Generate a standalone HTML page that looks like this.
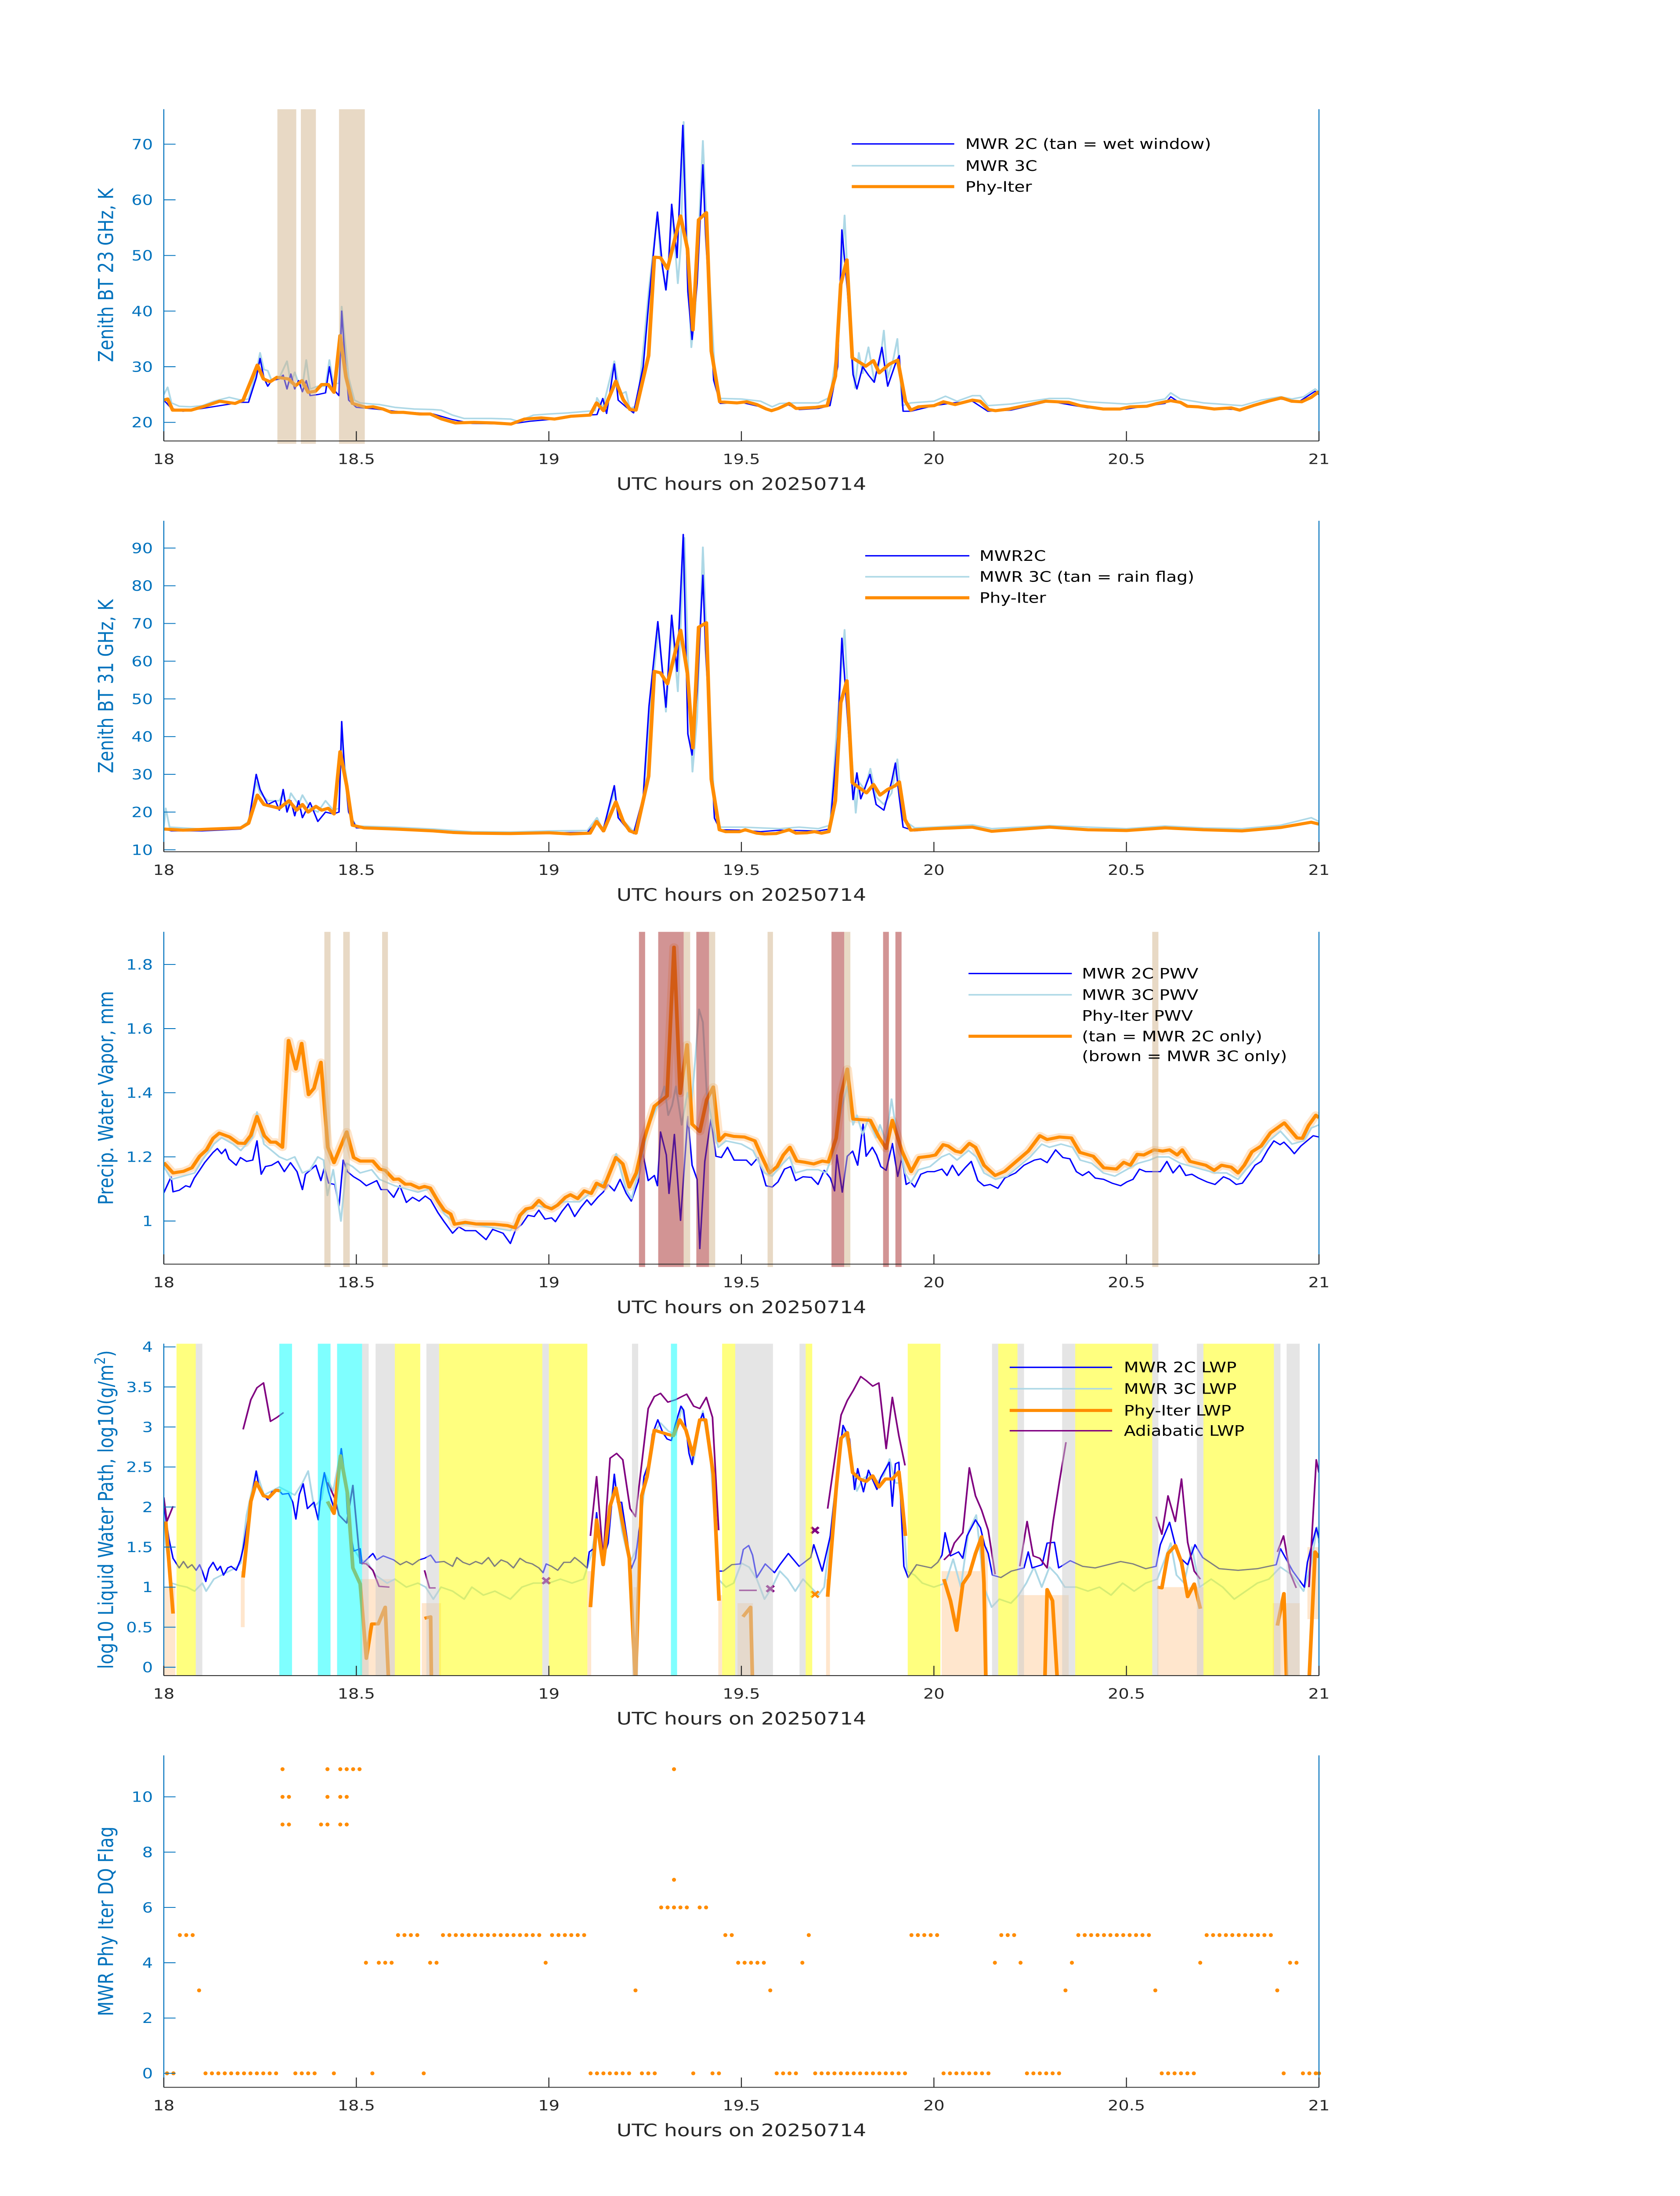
<!DOCTYPE html>
<html><head><meta charset="utf-8"><title>MWR 20250714</title>
<style>html,body{margin:0;padding:0;background:#fff;width:100%;height:100%;overflow:hidden}svg{display:block;width:100vw;height:100vh}</style></head>
<body>
<svg id="fig" xmlns="http://www.w3.org/2000/svg" viewBox="0 0 1000 1568.627" preserveAspectRatio="none" font-family="'DejaVu Sans','Liberation Sans',sans-serif">
<rect width="1000" height="1568.627" fill="#fff"/>
</svg>
<script>
// ---------- DATA ----------
const bt23Phy=[[18.0,24.0],[18.01,24.2],[18.023,22.2],[18.071,22.2],[18.106,22.9],[18.145,23.8],[18.185,23.4],[18.206,24.0],[18.243,30.3],[18.259,27.8],[18.276,27.3],[18.294,28.1],[18.324,27.8],[18.342,26.6],[18.359,27.5],[18.375,25.4],[18.394,25.6],[18.41,26.8],[18.427,26.8],[18.442,25.4],[18.458,35.6],[18.473,28.2],[18.49,23.4],[18.525,22.7],[18.543,22.8],[18.569,22.4],[18.591,21.8],[18.622,21.8],[18.665,21.5],[18.692,21.5],[18.722,20.6],[18.757,19.9],[18.806,20.0],[18.858,19.9],[18.902,19.7],[18.937,20.6],[18.98,20.8],[19.015,20.6],[19.058,21.1],[19.107,21.3],[19.124,23.5],[19.142,22.1],[19.174,27.4],[19.193,24.1],[19.211,22.3],[19.226,22.2],[19.259,32.0],[19.274,49.7],[19.29,49.6],[19.308,47.6],[19.342,57.1],[19.36,51.2],[19.374,36.6],[19.389,56.4],[19.409,57.7],[19.422,32.8],[19.444,23.7],[19.489,23.5],[19.514,23.7],[19.54,23.2],[19.565,22.4],[19.578,22.1],[19.596,22.5],[19.624,23.4],[19.642,22.5],[19.693,22.7],[19.723,23.0],[19.744,28.3],[19.758,44.8],[19.774,49.2],[19.788,31.6],[19.823,30.1],[19.843,31.1],[19.858,28.9],[19.885,30.5],[19.906,31.2],[19.926,23.8],[19.94,22.2],[19.96,22.8],[20.0,23.0],[20.025,23.7],[20.055,23.2],[20.1,24.0],[20.12,23.8],[20.142,22.3],[20.16,22.1],[20.195,22.4],[20.29,23.8],[20.35,23.6],[20.38,23.0],[20.44,22.4],[20.483,22.4],[20.51,22.8],[20.553,22.9],[20.58,23.4],[20.615,23.9],[20.64,23.6],[20.658,22.9],[20.685,22.8],[20.728,22.4],[20.772,22.6],[20.794,22.2],[20.833,23.1],[20.868,23.8],[20.903,24.4],[20.929,23.8],[20.955,23.7],[20.98,24.5],[20.997,25.4],[21.0,25.2]];
const bt23Mwr2c=[[18.0,24],[18.02,22.5],[18.05,22.0],[18.1,22.5],[18.2,23.6],[18.22,23.6],[18.24,28],[18.25,31.5],[18.26,28],[18.27,26.5],[18.28,27.5],[18.3,27.8],[18.31,28.5],[18.32,26],[18.33,28.7],[18.34,26],[18.35,27.5],[18.36,25.5],[18.37,27.5],[18.38,24.8],[18.4,25],[18.42,25.3],[18.43,30],[18.44,26],[18.455,24.8],[18.462,40],[18.47,32],[18.48,24],[18.5,22.7],[18.55,22.4],[18.6,22.0],[18.7,21.5],[18.75,20.5],[18.8,19.8],[18.9,19.7],[18.95,20.2],[19.0,20.5],[19.1,21.3],[19.125,21.4],[19.14,24.3],[19.15,21.6],[19.17,30.5],[19.18,24],[19.2,22.8],[19.22,21.7],[19.245,30],[19.26,42],[19.282,57.8],[19.295,48],[19.304,43.8],[19.312,50],[19.319,59.2],[19.333,49.6],[19.348,73.4],[19.361,43.5],[19.372,34.9],[19.385,45],[19.4,66.3],[19.407,53.8],[19.428,27.6],[19.445,23.4],[19.5,23.6],[19.55,22.8],[19.58,22.0],[19.62,23.2],[19.65,22.3],[19.7,22.5],[19.73,23.0],[19.75,30],[19.761,54.6],[19.775,44],[19.79,28.6],[19.8,26],[19.815,30],[19.83,28.5],[19.845,27.2],[19.865,33.5],[19.88,26.5],[19.9,30.5],[19.91,32],[19.92,22],[19.94,22.0],[20.0,23.0],[20.05,23.5],[20.1,23.8],[20.14,22.0],[20.2,22.2],[20.3,23.8],[20.4,22.6],[20.5,22.4],[20.6,23.4],[20.615,24.6],[20.65,23.0],[20.7,22.6],[20.75,22.4],[20.8,22.3],[20.85,23.5],[20.9,24.2],[20.95,23.8],[20.99,25.6],[21.0,25.0]];
const bt23Mwr3c=[[18.0,25],[18.01,26.3],[18.02,23.5],[18.04,22.9],[18.07,22.8],[18.1,23.0],[18.13,23.8],[18.17,24.5],[18.2,24.0],[18.22,24.2],[18.24,29],[18.25,32.5],[18.26,29.5],[18.27,29.3],[18.28,27.5],[18.3,28.0],[18.31,29.5],[18.32,31],[18.33,27],[18.34,29],[18.35,27],[18.36,26.5],[18.37,31.2],[18.38,26],[18.4,26.5],[18.42,26.5],[18.43,31.2],[18.44,27],[18.455,27],[18.462,40.8],[18.47,35],[18.48,28],[18.495,24],[18.51,23.5],[18.54,23.3],[18.56,23.2],[18.6,22.7],[18.65,22.4],[18.7,22.3],[18.72,22.2],[18.75,21.3],[18.78,20.7],[18.85,20.7],[18.9,20.6],[18.92,20.2],[18.96,21.3],[19.0,21.5],[19.05,21.7],[19.1,22.0],[19.12,22.1],[19.125,24.4],[19.14,22.6],[19.17,31.0],[19.185,25],[19.2,25.5],[19.21,22.5],[19.23,23],[19.245,33],[19.26,44],[19.282,57.4],[19.29,50],[19.304,43.8],[19.31,47],[19.32,58.5],[19.335,45],[19.343,52],[19.35,74.0],[19.36,50],[19.37,33.5],[19.38,40],[19.4,70.6],[19.41,55],[19.43,30],[19.445,24.3],[19.5,24.2],[19.55,23.8],[19.58,22.8],[19.6,23.4],[19.64,23.5],[19.7,23.5],[19.73,24.5],[19.75,34],[19.762,50],[19.768,57.2],[19.78,40],[19.795,26.2],[19.805,32.5],[19.815,28.8],[19.83,33.5],[19.845,27.5],[19.86,31],[19.87,36.5],[19.88,28],[19.895,31.5],[19.905,35],[19.918,23],[19.94,23.5],[20.0,23.8],[20.03,24.7],[20.06,23.8],[20.1,24.8],[20.12,24.8],[20.14,23.0],[20.2,23.3],[20.3,24.3],[20.35,24.3],[20.4,23.7],[20.5,23.3],[20.55,23.6],[20.6,24.2],[20.615,25.3],[20.64,24.2],[20.7,23.5],[20.8,23.0],[20.85,24.0],[20.9,24.6],[20.93,24.2],[20.96,24.6],[20.99,26.0],[21.0,25.5]];
const bt23WetBands=[[18.295,18.344],[18.356,18.395],[18.455,18.522]];

const bt31Phy=[[18.0,15.5],[18.05,15.2],[18.2,15.8],[18.22,17],[18.243,24.5],[18.26,22],[18.28,21.5],[18.3,21],[18.325,23],[18.345,20.5],[18.36,22],[18.375,20],[18.395,21.5],[18.41,20.5],[18.427,21],[18.442,19.5],[18.458,36],[18.475,27],[18.49,16.5],[18.52,15.8],[18.6,15.5],[18.7,15],[18.75,14.6],[18.8,14.4],[18.9,14.3],[19.0,14.5],[19.056,14.2],[19.107,14.4],[19.124,17.5],[19.142,15.0],[19.174,22.7],[19.193,17.5],[19.21,15.0],[19.226,14.4],[19.259,29.5],[19.274,57.3],[19.29,56.9],[19.308,54.0],[19.342,68.2],[19.36,56.7],[19.374,37.0],[19.389,69.0],[19.409,70.2],[19.422,28.7],[19.443,15.3],[19.459,14.8],[19.495,14.8],[19.51,15.3],[19.54,14.4],[19.56,14.2],[19.59,14.3],[19.624,15.3],[19.642,14.4],[19.67,14.5],[19.69,14.8],[19.708,14.4],[19.727,14.8],[19.744,23.0],[19.758,49.0],[19.774,54.8],[19.788,27.8],[19.804,26.6],[19.825,25.1],[19.843,27.3],[19.86,24.5],[19.88,26],[19.9,27],[19.91,28],[19.925,18],[19.94,15.2],[20.0,15.6],[20.1,16.0],[20.15,14.9],[20.3,16.0],[20.4,15.3],[20.5,15.1],[20.6,15.8],[20.7,15.3],[20.8,15.0],[20.9,15.9],[20.98,17.3],[21.0,16.8]];
const bt31Mwr2c=[[18.0,15.5],[18.02,15.0],[18.1,15.0],[18.2,15.5],[18.22,17],[18.24,30],[18.25,26],[18.27,22],[18.29,23],[18.3,20.5],[18.31,26],[18.32,20],[18.33,23],[18.34,19],[18.35,23],[18.36,18.5],[18.38,22.5],[18.4,17.5],[18.42,20],[18.44,19.5],[18.455,20],[18.462,44],[18.47,30],[18.48,20],[18.5,15.8],[18.6,15.5],[18.7,15],[18.8,14.3],[18.9,14.2],[19.0,14.5],[19.1,14.6],[19.125,17.5],[19.14,14.8],[19.17,27],[19.18,18.5],[19.2,16],[19.22,14.3],[19.245,24],[19.26,48],[19.283,70.5],[19.304,47.8],[19.319,72.2],[19.333,57.3],[19.349,93.6],[19.361,40.7],[19.372,35.1],[19.385,52],[19.4,82.8],[19.407,63.1],[19.43,18.4],[19.445,15.3],[19.5,15.2],[19.55,14.8],[19.6,15.2],[19.7,15.0],[19.73,15.5],[19.75,40],[19.761,66.1],[19.775,46],[19.79,23.3],[19.8,30.4],[19.81,23.5],[19.834,30.0],[19.85,22],[19.87,20.5],[19.89,28],[19.9,33],[19.91,24],[19.92,16],[19.95,15.0],[20.0,15.4],[20.1,15.8],[20.15,15.0],[20.3,15.8],[20.5,15.0],[20.6,15.8],[20.7,15.2],[20.8,15.0],[20.9,15.8],[20.98,17.5],[21.0,16.8]];
const bt31Mwr3c=[[18.0,16],[18.005,21],[18.015,16],[18.1,15.5],[18.2,16],[18.22,17.5],[18.24,28],[18.25,25],[18.27,23],[18.3,23],[18.31,25],[18.32,21],[18.33,25],[18.35,22],[18.36,24.5],[18.38,21],[18.4,20],[18.42,23],[18.44,20.5],[18.455,21],[18.462,41],[18.47,32],[18.49,18],[18.5,16.3],[18.6,16],[18.7,15.5],[18.8,14.8],[18.9,14.7],[19.0,15.0],[19.1,15.1],[19.125,18.5],[19.14,15.2],[19.17,25.5],[19.18,19],[19.2,17],[19.22,14.8],[19.245,22],[19.26,45],[19.285,68.7],[19.304,46.6],[19.32,69.9],[19.335,52],[19.352,92.7],[19.365,48],[19.373,30.7],[19.385,45],[19.4,90.2],[19.41,65],[19.43,21],[19.445,16],[19.5,16],[19.6,15.6],[19.65,16],[19.7,15.6],[19.73,16.5],[19.75,45],[19.768,68.3],[19.78,44],[19.797,19.8],[19.805,28],[19.82,26],[19.835,31.5],[19.85,24],[19.87,22],[19.89,25],[19.905,34],[19.92,18],[19.95,15.8],[20.0,16],[20.1,16.6],[20.15,15.6],[20.3,16.4],[20.5,15.6],[20.6,16.3],[20.7,15.8],[20.8,15.6],[20.9,16.5],[20.98,18.5],[21.0,17.5]];

const pwvPhy=[[18.0,1.182],[18.024,1.150],[18.051,1.155],[18.073,1.166],[18.093,1.202],[18.111,1.222],[18.128,1.258],[18.144,1.274],[18.171,1.262],[18.193,1.243],[18.21,1.242],[18.226,1.267],[18.242,1.326],[18.261,1.266],[18.277,1.246],[18.291,1.246],[18.308,1.230],[18.324,1.563],[18.343,1.474],[18.358,1.554],[18.376,1.394],[18.39,1.414],[18.408,1.495],[18.426,1.230],[18.442,1.182],[18.475,1.278],[18.493,1.198],[18.51,1.187],[18.543,1.187],[18.561,1.162],[18.575,1.158],[18.597,1.130],[18.61,1.131],[18.627,1.115],[18.641,1.115],[18.663,1.103],[18.677,1.108],[18.692,1.103],[18.712,1.062],[18.728,1.034],[18.745,1.022],[18.755,0.990],[18.783,0.996],[18.81,0.991],[18.859,0.990],[18.892,0.986],[18.912,0.979],[18.925,1.018],[18.941,1.038],[18.957,1.042],[18.974,1.064],[18.99,1.046],[19.007,1.038],[19.023,1.050],[19.043,1.074],[19.056,1.082],[19.075,1.070],[19.092,1.094],[19.11,1.086],[19.124,1.118],[19.143,1.106],[19.174,1.198],[19.192,1.178],[19.209,1.106],[19.227,1.150],[19.247,1.254],[19.274,1.358],[19.307,1.390],[19.325,1.854],[19.341,1.398],[19.359,1.550],[19.372,1.302],[19.392,1.279],[19.41,1.378],[19.427,1.418],[19.442,1.250],[19.458,1.270],[19.48,1.264],[19.508,1.262],[19.535,1.250],[19.551,1.206],[19.573,1.150],[19.593,1.170],[19.609,1.206],[19.626,1.230],[19.644,1.187],[19.666,1.183],[19.688,1.178],[19.71,1.187],[19.726,1.184],[19.746,1.258],[19.759,1.394],[19.775,1.474],[19.79,1.318],[19.811,1.316],[19.835,1.314],[19.857,1.262],[19.876,1.226],[19.892,1.314],[19.917,1.218],[19.941,1.154],[19.961,1.198],[19.988,1.202],[20.004,1.206],[20.024,1.238],[20.037,1.234],[20.056,1.218],[20.07,1.214],[20.092,1.242],[20.108,1.230],[20.13,1.174],[20.159,1.142],[20.184,1.155],[20.212,1.184],[20.245,1.218],[20.275,1.266],[20.294,1.254],[20.326,1.262],[20.357,1.259],[20.379,1.214],[20.414,1.202],[20.441,1.166],[20.474,1.162],[20.493,1.183],[20.51,1.174],[20.528,1.208],[20.545,1.206],[20.572,1.222],[20.594,1.218],[20.612,1.222],[20.632,1.206],[20.645,1.222],[20.665,1.186],[20.692,1.178],[20.706,1.174],[20.728,1.158],[20.747,1.174],[20.772,1.168],[20.79,1.150],[20.806,1.174],[20.826,1.216],[20.85,1.234],[20.874,1.275],[20.91,1.306],[20.943,1.259],[20.957,1.258],[20.973,1.298],[20.992,1.330],[21.0,1.322]];
const pwvMwr2c=[[18.0,1.088],[18.019,1.138],[18.024,1.091],[18.04,1.096],[18.057,1.110],[18.068,1.106],[18.079,1.134],[18.095,1.162],[18.106,1.182],[18.128,1.214],[18.139,1.226],[18.15,1.210],[18.16,1.224],[18.169,1.194],[18.188,1.174],[18.199,1.198],[18.215,1.186],[18.231,1.190],[18.242,1.250],[18.253,1.146],[18.264,1.170],[18.28,1.174],[18.297,1.186],[18.313,1.154],[18.329,1.182],[18.346,1.154],[18.36,1.098],[18.368,1.146],[18.395,1.174],[18.408,1.126],[18.417,1.166],[18.428,1.118],[18.444,1.114],[18.455,1.046],[18.466,1.190],[18.477,1.154],[18.493,1.138],[18.51,1.126],[18.526,1.110],[18.553,1.126],[18.564,1.098],[18.58,1.098],[18.597,1.074],[18.613,1.110],[18.63,1.058],[18.646,1.074],[18.663,1.062],[18.679,1.078],[18.693,1.066],[18.712,1.026],[18.728,0.998],[18.75,0.962],[18.766,0.982],[18.783,0.970],[18.81,0.970],[18.837,0.942],[18.854,0.974],[18.881,0.962],[18.9,0.930],[18.914,0.974],[18.93,0.990],[18.946,1.018],[18.962,1.014],[18.974,1.034],[18.99,1.006],[19.007,1.010],[19.017,0.998],[19.034,1.030],[19.05,1.054],[19.067,1.014],[19.083,1.042],[19.099,1.066],[19.11,1.050],[19.127,1.074],[19.141,1.090],[19.154,1.114],[19.17,1.094],[19.185,1.130],[19.201,1.086],[19.214,1.062],[19.232,1.122],[19.243,1.218],[19.258,1.126],[19.274,1.142],[19.282,1.110],[19.29,1.278],[19.305,1.206],[19.312,1.086],[19.326,1.270],[19.342,1.002],[19.361,1.326],[19.372,1.174],[19.385,1.130],[19.392,0.914],[19.405,1.186],[19.421,1.318],[19.434,1.202],[19.448,1.198],[19.464,1.230],[19.481,1.190],[19.513,1.190],[19.526,1.174],[19.543,1.198],[19.564,1.110],[19.58,1.106],[19.595,1.122],[19.612,1.162],[19.628,1.170],[19.641,1.126],[19.66,1.138],[19.682,1.136],[19.699,1.114],[19.715,1.158],[19.731,1.134],[19.742,1.094],[19.748,1.206],[19.762,1.090],[19.775,1.202],[19.789,1.218],[19.802,1.174],[19.816,1.302],[19.824,1.202],[19.84,1.230],[19.851,1.206],[19.862,1.170],[19.876,1.158],[19.892,1.242],[19.906,1.139],[19.917,1.198],[19.928,1.114],[19.939,1.122],[19.95,1.106],[19.966,1.146],[19.983,1.154],[20.001,1.154],[20.021,1.162],[20.034,1.142],[20.048,1.174],[20.064,1.142],[20.081,1.166],[20.097,1.186],[20.114,1.126],[20.13,1.110],[20.146,1.114],[20.166,1.102],[20.184,1.134],[20.212,1.150],[20.234,1.174],[20.261,1.190],[20.277,1.194],[20.294,1.182],[20.316,1.222],[20.335,1.198],[20.353,1.194],[20.37,1.154],[20.386,1.142],[20.402,1.154],[20.419,1.134],[20.441,1.130],[20.463,1.118],[20.485,1.110],[20.501,1.122],[20.517,1.130],[20.534,1.162],[20.55,1.154],[20.572,1.154],[20.588,1.154],[20.605,1.186],[20.621,1.150],[20.638,1.174],[20.654,1.142],[20.67,1.146],[20.687,1.134],[20.709,1.122],[20.73,1.114],[20.752,1.138],[20.768,1.130],[20.785,1.114],[20.801,1.118],[20.818,1.146],[20.834,1.174],[20.85,1.186],[20.867,1.222],[20.883,1.250],[20.899,1.238],[20.909,1.246],[20.925,1.226],[20.936,1.210],[20.953,1.234],[20.969,1.250],[20.985,1.266],[21.0,1.262]];
const pwvMwr3c=[[18.0,1.17],[18.02,1.13],[18.05,1.14],[18.08,1.15],[18.1,1.19],[18.13,1.24],[18.15,1.26],[18.18,1.24],[18.2,1.22],[18.23,1.26],[18.242,1.34],[18.26,1.24],[18.28,1.22],[18.3,1.2],[18.32,1.19],[18.34,1.2],[18.36,1.15],[18.38,1.16],[18.4,1.2],[18.415,1.19],[18.425,1.08],[18.44,1.16],[18.46,1.0],[18.475,1.18],[18.49,1.17],[18.51,1.15],[18.54,1.16],[18.56,1.13],[18.6,1.11],[18.63,1.1],[18.66,1.09],[18.69,1.1],[18.71,1.06],[18.73,1.02],[18.76,0.99],[18.8,0.99],[18.85,0.98],[18.9,0.97],[18.93,1.02],[18.96,1.05],[19.0,1.04],[19.04,1.06],[19.08,1.06],[19.12,1.1],[19.15,1.13],[19.175,1.21],[19.2,1.1],[19.215,1.07],[19.23,1.14],[19.26,1.3],[19.29,1.38],[19.3,1.42],[19.31,1.33],[19.32,1.36],[19.33,1.42],[19.345,1.3],[19.36,1.4],[19.37,1.36],[19.38,1.5],[19.39,1.66],[19.4,1.62],[19.41,1.4],[19.425,1.3],[19.44,1.23],[19.46,1.25],[19.5,1.24],[19.53,1.22],[19.56,1.15],[19.58,1.14],[19.6,1.17],[19.625,1.2],[19.64,1.15],[19.67,1.16],[19.7,1.16],[19.72,1.15],[19.74,1.22],[19.76,1.35],[19.775,1.42],[19.79,1.3],[19.8,1.33],[19.815,1.27],[19.83,1.32],[19.85,1.26],[19.86,1.3],[19.875,1.25],[19.89,1.38],[19.9,1.3],[19.91,1.25],[19.925,1.15],[19.94,1.12],[19.96,1.16],[19.99,1.17],[20.02,1.2],[20.04,1.21],[20.06,1.19],[20.09,1.22],[20.11,1.2],[20.13,1.15],[20.16,1.13],[20.19,1.14],[20.22,1.17],[20.25,1.2],[20.28,1.24],[20.3,1.23],[20.33,1.24],[20.36,1.23],[20.38,1.19],[20.41,1.18],[20.44,1.15],[20.47,1.14],[20.5,1.16],[20.53,1.18],[20.56,1.19],[20.58,1.2],[20.61,1.2],[20.64,1.18],[20.67,1.17],[20.7,1.16],[20.73,1.15],[20.76,1.15],[20.79,1.13],[20.81,1.16],[20.84,1.2],[20.87,1.25],[20.9,1.28],[20.93,1.24],[20.96,1.25],[20.98,1.29],[21.0,1.3]];
const pwvTanBands=[[18.417,18.433],[18.466,18.483],[18.567,18.582],[19.35,19.367],[19.416,19.432],[19.568,19.582],[19.767,19.783],[20.567,20.583]];
const pwvBrownBands=[[19.234,19.25],[19.284,19.35],[19.383,19.416],[19.734,19.767],[19.868,19.883],[19.9,19.916]];

const lwpPhy=[[18.005,1.82],[18.024,0.67],null,[18.206,1.12],[18.226,2.07],[18.24,2.31],[18.259,2.14],[18.273,2.12],[18.291,2.21],[18.304,2.20],null,[18.425,2.07],[18.442,1.92],[18.459,2.64],[18.477,2.17],[18.491,1.24],[18.51,1.04],[18.526,0.11],[18.54,0.54],[18.557,0.54],[18.575,0.75],[18.584,-0.2],null,[18.677,0.61],[18.693,0.63],[18.695,-0.2],null,[19.108,0.75],[19.124,1.84],[19.141,1.28],[19.159,2.01],[19.174,2.24],[19.192,1.79],[19.209,1.36],[19.225,-0.2],[19.241,2.14],[19.255,2.38],[19.274,2.96],[19.307,2.91],[19.323,2.89],[19.34,3.09],[19.356,2.96],[19.374,2.65],[19.392,3.09],[19.407,3.09],[19.427,2.41],[19.442,0.83],null,[19.504,0.63],[19.524,0.75],[19.529,-0.2],null,[19.724,0.88],[19.746,2.22],[19.759,2.86],[19.775,2.93],[19.789,2.43],[19.808,2.35],[19.824,2.32],[19.841,2.39],[19.857,2.25],[19.874,2.35],[19.892,2.35],[19.909,2.44],[19.917,2.09],[19.926,1.64],null,[20.026,1.10],[20.043,0.83],[20.059,0.46],[20.075,1.04],[20.092,1.16],[20.108,1.42],[20.124,1.63],[20.13,1.05],[20.135,-0.2],null,[20.288,-0.2],[20.294,0.97],[20.308,0.83],[20.321,-0.2],null,[20.58,1.00],[20.592,0.99],[20.608,1.42],[20.627,1.52],[20.643,1.31],[20.659,0.88],[20.676,1.04],[20.692,0.73],null,[20.892,0.52],[20.909,0.92],[20.916,-0.2],null,[20.974,-0.2],[20.99,1.44],[21.0,1.37]];
const lwpAdiabatic=[[18.0,2.12],[18.008,1.82],[18.024,2.01],null,[18.206,2.97],[18.226,3.34],[18.242,3.49],[18.259,3.55],[18.277,3.07],[18.294,3.12],[18.311,3.18],null,[18.425,2.31],[18.444,2.11],[18.455,1.90],[18.475,1.80],[18.491,2.27],[18.51,1.30],[18.526,1.29],[18.543,1.21],[18.559,1.01],[18.586,1.00],null,[18.677,1.21],[18.69,0.99],[18.706,0.99],null,[19.108,1.64],[19.124,2.38],[19.141,1.37],[19.159,2.61],[19.176,2.67],[19.192,2.59],[19.211,1.98],[19.225,1.88],[19.258,3.23],[19.274,3.38],[19.29,3.42],[19.309,3.31],[19.329,3.34],[19.358,3.41],[19.376,3.26],[19.392,3.23],[19.409,3.37],[19.425,3.12],[19.441,1.71],null,[19.494,0.96],[19.54,0.96],null,[19.724,1.98],[19.759,3.15],[19.775,3.33],[19.791,3.46],[19.81,3.63],[19.824,3.58],[19.841,3.51],[19.857,3.55],[19.876,2.73],[19.892,3.37],[19.909,2.89],[19.925,2.52],null,[20.026,1.34],[20.043,1.42],[20.053,1.55],[20.075,1.68],[20.092,2.49],[20.108,2.14],[20.124,1.96],[20.141,1.71],[20.159,1.16],null,[20.223,1.26],[20.242,1.82],[20.258,1.39],[20.275,1.36],[20.294,1.24],[20.31,1.83],[20.326,2.32],[20.343,2.81],null,[20.577,1.88],[20.592,1.66],[20.608,2.14],[20.627,1.82],[20.643,2.35],[20.659,1.56],[20.676,1.20],[20.692,1.10],null,[20.892,1.44],[20.908,1.64],[20.925,1.18],[20.941,0.99],null,[20.974,1.00],[20.993,2.59],[21.0,2.43]];
const lwpMwr2c=[[18.0,2.03],[18.013,1.61],[18.024,1.36],[18.04,1.24],[18.051,1.32],[18.062,1.24],[18.073,1.28],[18.084,1.21],[18.093,1.28],[18.1,1.20],[18.109,1.07],[18.117,1.23],[18.128,1.31],[18.139,1.21],[18.147,1.26],[18.155,1.15],[18.166,1.24],[18.175,1.26],[18.188,1.21],[18.199,1.34],[18.206,1.48],[18.226,2.06],[18.24,2.45],[18.248,2.22],[18.27,2.09],[18.281,2.19],[18.297,2.22],[18.308,2.16],[18.324,2.17],[18.335,2.06],[18.343,1.85],[18.352,2.16],[18.362,2.29],[18.373,1.98],[18.39,2.06],[18.401,1.84],[18.409,2.22],[18.417,2.43],[18.428,2.19],[18.444,1.96],[18.461,2.73],[18.472,2.32],[18.477,1.92],[18.493,1.45],[18.51,1.48],[18.515,1.29],[18.543,1.42],[18.553,1.34],[18.57,1.39],[18.597,1.34],[18.614,1.28],[18.63,1.32],[18.646,1.28],[18.663,1.34],[18.677,1.36],[18.693,1.40],[18.706,1.31],[18.728,1.32],[18.75,1.26],[18.761,1.37],[18.777,1.31],[18.794,1.28],[18.81,1.32],[18.826,1.29],[18.843,1.37],[18.859,1.26],[18.876,1.34],[18.892,1.31],[18.908,1.24],[18.925,1.36],[18.941,1.31],[18.957,1.29],[18.974,1.24],[18.985,1.18],[18.993,1.29],[19.007,1.26],[19.023,1.21],[19.039,1.31],[19.056,1.31],[19.067,1.37],[19.083,1.31],[19.099,1.24],[19.105,1.44],[19.116,1.48],[19.124,1.93],[19.132,1.52],[19.141,1.36],[19.154,1.55],[19.17,2.41],[19.178,2.06],[19.189,2.06],[19.203,1.61],[19.214,1.23],[19.225,1.36],[19.236,1.77],[19.247,2.38],[19.258,2.53],[19.269,2.91],[19.283,3.09],[19.296,2.93],[19.307,2.85],[19.318,2.83],[19.329,3.04],[19.343,3.26],[19.35,3.21],[19.364,2.67],[19.372,2.53],[19.385,2.99],[19.4,3.17],[19.414,2.85],[19.427,2.48],[19.441,1.20],[19.453,1.20],[19.475,1.28],[19.497,1.29],[19.505,1.47],[19.519,1.52],[19.529,1.40],[19.54,1.12],[19.562,1.29],[19.586,1.18],[19.6,1.28],[19.622,1.42],[19.65,1.26],[19.68,1.37],[19.688,1.53],[19.71,1.20],[19.731,1.64],[19.748,2.41],[19.764,3.02],[19.781,2.85],[19.794,2.22],[19.802,2.48],[19.817,2.19],[19.83,2.46],[19.852,2.22],[19.862,2.37],[19.884,2.56],[19.892,2.01],[19.9,2.54],[19.909,2.56],[19.922,1.26],[19.933,1.12],[19.955,1.28],[19.993,1.24],[20.01,1.31],[20.021,1.40],[20.029,1.68],[20.043,1.39],[20.064,1.44],[20.075,1.36],[20.086,1.64],[20.108,1.84],[20.121,1.74],[20.132,1.52],[20.141,1.42],[20.152,1.15],[20.174,1.12],[20.201,1.20],[20.234,1.24],[20.245,1.44],[20.255,1.24],[20.281,1.28],[20.294,1.55],[20.313,1.56],[20.324,1.24],[20.354,1.33],[20.386,1.26],[20.419,1.24],[20.452,1.28],[20.485,1.32],[20.517,1.29],[20.55,1.23],[20.577,1.26],[20.588,1.53],[20.612,1.81],[20.634,1.39],[20.659,1.28],[20.678,1.53],[20.698,1.37],[20.741,1.23],[20.79,1.21],[20.84,1.23],[20.889,1.28],[20.9,1.48],[20.932,1.20],[20.962,1.00],[20.97,1.31],[20.993,1.74],[21.0,1.61]];
const lwpMwr3c=[[18.0,2.05],[18.005,1.55],[18.02,1.05],[18.04,1.02],[18.06,1.0],[18.08,0.95],[18.1,1.05],[18.11,0.95],[18.13,1.1],[18.15,1.15],[18.17,1.2],[18.19,1.25],[18.2,1.3],[18.215,1.9],[18.24,2.45],[18.26,2.15],[18.28,2.2],[18.3,2.25],[18.32,2.2],[18.34,2.15],[18.36,2.3],[18.375,2.45],[18.39,2.0],[18.41,2.1],[18.42,2.4],[18.44,2.2],[18.46,2.72],[18.47,2.4],[18.49,1.5],[18.51,1.35],[18.53,1.3],[18.55,1.15],[18.58,1.05],[18.6,1.1],[18.63,1.0],[18.66,1.05],[18.68,1.0],[18.7,0.85],[18.72,1.0],[18.75,0.95],[18.78,0.85],[18.8,1.0],[18.83,0.9],[18.86,0.95],[18.9,0.85],[18.93,1.0],[18.96,1.05],[19.0,1.05],[19.03,1.1],[19.06,1.05],[19.09,1.1],[19.11,1.4],[19.125,1.8],[19.14,1.4],[19.16,2.0],[19.17,2.4],[19.19,1.7],[19.21,1.3],[19.23,1.5],[19.25,2.3],[19.27,2.9],[19.29,3.05],[19.31,2.95],[19.33,2.9],[19.345,3.25],[19.36,2.9],[19.375,2.55],[19.39,3.0],[19.4,3.2],[19.42,2.6],[19.44,1.1],[19.46,1.0],[19.48,1.05],[19.5,1.3],[19.52,1.25],[19.54,1.1],[19.56,0.85],[19.58,1.0],[19.6,1.2],[19.62,1.1],[19.64,0.95],[19.66,1.1],[19.68,1.0],[19.7,0.9],[19.715,1.0],[19.73,1.6],[19.75,2.5],[19.765,3.0],[19.78,2.7],[19.8,2.2],[19.815,2.35],[19.83,2.4],[19.85,2.3],[19.87,2.4],[19.885,2.6],[19.9,2.3],[19.915,2.3],[19.93,1.2],[19.95,1.15],[19.97,1.05],[20.0,1.0],[20.03,1.05],[20.05,1.35],[20.07,1.0],[20.09,1.7],[20.11,1.9],[20.13,1.0],[20.15,0.75],[20.17,0.85],[20.2,0.8],[20.22,0.9],[20.24,1.05],[20.26,1.25],[20.28,1.0],[20.3,1.25],[20.32,1.15],[20.34,1.0],[20.37,1.0],[20.4,0.95],[20.43,1.0],[20.46,0.9],[20.49,1.05],[20.52,0.95],[20.55,1.05],[20.58,1.1],[20.6,1.35],[20.615,1.55],[20.63,1.15],[20.65,1.05],[20.67,1.5],[20.69,1.0],[20.72,1.1],[20.75,1.0],[20.78,0.85],[20.81,0.95],[20.84,1.05],[20.87,1.1],[20.9,1.25],[20.93,1.15],[20.96,0.95],[20.98,1.3],[20.995,1.75],[21.0,1.55]];
const lwpPhyMarkers=[[19.691,0.91]];
const lwpAdiabaticMarkers=[[18.993,1.08],[19.575,0.98],[19.691,1.71]];
const lwpPhyUncert=[[18.0,18.03,-0.2,1.0],[18.2,18.21,0.5,1.2],[18.51,18.6,-0.2,1.1],[18.67,18.72,-0.2,0.8],[19.1,19.11,-0.2,1.2],[19.22,19.23,-0.2,1.0],[19.44,19.45,-0.2,0.9],[19.49,19.53,-0.2,0.8],[19.72,19.73,-0.2,1.1],[20.02,20.12,-0.2,1.2],[20.12,20.14,-0.2,1.5],[20.22,20.35,-0.2,0.9],[20.58,20.7,-0.2,1.0],[20.88,20.95,-0.2,0.8],[20.97,21.0,0.6,1.5]];
const lwpYellowBands=[[18.033,18.083],[18.6,18.666],[18.715,18.983],[19.0,19.1],[19.45,19.484],[19.667,19.684],[19.932,20.017],[20.167,20.217],[20.367,20.567],[20.7,20.883]];
const lwpCyanBands=[[18.3,18.333],[18.4,18.433],[18.45,18.515],[19.317,19.333]];
const lwpGrayBands=[[18.083,18.1],[18.515,18.532],[18.55,18.6],[18.682,18.715],[18.983,19.0],[19.216,19.232],[19.484,19.582],[19.651,19.667],[20.151,20.167],[20.217,20.234],[20.333,20.367],[20.567,20.583],[20.683,20.7],[20.883,20.9],[20.916,20.95]];

const flag0=[0.5,1.5,6.5,7.5,8.5,9.5,10.5,11.5,12.5,13.5,14.5,15.5,16.5,17.5,20.5,21.5,22.5,23.5,26.5,32.5,40.5,66.5,67.5,68.5,69.5,70.5,71.5,72.5,74.5,75.5,76.5,82.5,85.5,86.5,95.5,96.5,97.5,98.5,101.5,102.5,103.5,104.5,105.5,106.5,107.5,108.5,109.5,110.5,111.5,112.5,113.5,114.5,115.5,121.5,122.5,123.5,124.5,125.5,126.5,127.5,128.5,134.5,135.5,136.5,137.5,138.5,139.5,155.5,156.5,157.5,158.5,159.5,160.5,174.5,177.5,178.5,179.5,180];
const flag3=[5.5,73.5,94.5,140.5,154.5,173.5];
const flag4=[31.5,33.5,34.5,35.5,41.5,42.5,59.5,89.5,90.5,91.5,92.5,93.5,99.5,129.5,133.5,141.5,161.5,175.5,176.5];
const flag5=[2.5,3.5,4.5,36.5,37.5,38.5,39.5,43.5,44.5,45.5,46.5,47.5,48.5,49.5,50.5,51.5,52.5,53.5,54.5,55.5,56.5,57.5,58.5,60.5,61.5,62.5,63.5,64.5,65.5,87.5,88.5,100.5,116.5,117.5,118.5,119.5,120.5,130.5,131.5,132.5,142.5,143.5,144.5,145.5,146.5,147.5,148.5,149.5,150.5,151.5,152.5,153.5,162.5,163.5,164.5,165.5,166.5,167.5,168.5,169.5,170.5,171.5,172.5];
const flag6=[77.5,78.5,79.5,80.5,81.5,83.5,84.5];
const flag7=[79.5];
const flag9=[18.5,19.5,24.5,25.5,27.5,28.5];
const flag10=[18.5,19.5,25.5,27.5,28.5];
const flag11=[18.5,25.5,27.5,28.5,29.5,30.5,79.5];

const xTicks=[18,18.5,19,19.5,20,20.5,21];
const xTickLabels=['18','18.5','19','19.5','20','20.5','21'];
const bt23Ticks=[20,30,40,50,60,70];
const bt31Ticks=[10,20,30,40,50,60,70,80,90];
const pwvTicks=[1,1.2,1.4,1.6,1.8];
const lwpTicks=[0,0.5,1,1.5,2,2.5,3,3.5,4];
const flagTicks=[0,2,4,6,8,10];

// ---------- RENDER ----------
const NS='http://www.w3.org/2000/svg';
const svg=document.getElementById('fig');
function el(tag,attrs,parent){const e=document.createElementNS(NS,tag);for(const k in attrs)e.setAttribute(k,attrs[k]);(parent||svg).appendChild(e);return e;}
const X0=97.5,X1=785.1,XW=(X1-X0)/3;
function X(t){return X0+(t-18)*XW;}
const P={
 p1:{top:78,bottom:315,y:v=>301.7-(v-20)*3.974},
 p2:{top:372,bottom:608.4,y:v=>607-(v-10)*2.694},
 p3:{top:665.6,bottom:903,y:v=>872.2-(v-1)*229.1},
 p4:{top:959.8,bottom:1196.9,y:v=>1190.9-v*57.2},
 p5:{top:1253.9,bottom:1491,y:v=>1481-v*19.75}
};
let clipN=0;
function clipFor(p){const id='clip'+(clipN++);const cp=el('clipPath',{id:id});el('rect',{x:X0,y:p.top,width:X1-X0,height:p.bottom-p.top},cp);return 'url(#'+id+')';}
function pathD(pts,yf){let d='',pen=false;for(const q of pts){if(q===null){pen=false;continue;}d+=(pen?'L':'M')+X(q[0]).toFixed(2)+' '+yf(q[1]).toFixed(2);pen=true;}return d;}
function line(g,pts,p,color,w,name,extra){const e=el('path',Object.assign({d:pathD(pts,p.y),fill:'none',stroke:color,'stroke-width':w,'stroke-linejoin':'round'},extra||{}),g);


return e;}
function bands(g,list,p,color,name){for(const b of list){const r=el('rect',{x:X(b[0]),y:p.top,width:X(b[1])-X(b[0]),height:p.bottom-p.top+2,fill:color,'fill-opacity':0.5},g);

}}
function axes(p,ticks,labels,ytitle,pname){
 const g=el('g',{});
 
 
 el('line',{x1:X0,y1:p.top,x2:X0,y2:p.bottom,stroke:'#0072BD','stroke-width':0.6},g);
 el('line',{x1:X1,y1:p.top,x2:X1,y2:p.bottom,stroke:'#0072BD','stroke-width':0.6},g);
 el('line',{x1:X0,y1:p.bottom,x2:X1,y2:p.bottom,stroke:'#262626','stroke-width':0.6},g);
 ticks.forEach((v,i)=>{const y=p.y(v);
  el('line',{x1:X0,y1:y,x2:X0+7,y2:y,stroke:'#0072BD','stroke-width':0.6},g);
  const t=el('text',{x:91,y:y+3.6,'font-size':10,fill:'#0072BD','text-anchor':'end'},g);t.textContent=labels[i];
  
  });
 xTicks.forEach((v,i)=>{const x=X(v);
  el('line',{x1:x,y1:p.bottom,x2:x,y2:p.bottom-7,stroke:'#262626','stroke-width':0.6},g);
  const t=el('text',{x:x,y:p.bottom+16.5,'font-size':10,fill:'#262626','text-anchor':'middle'},g);t.textContent=xTickLabels[i];
  
  });
 const xl=el('text',{x:(X0+X1)/2,y:p.bottom+35,'font-size':12.3,fill:'#262626','text-anchor':'middle'},g);xl.textContent='UTC hours on 20250714';
 
 
 const cy=(p.top+p.bottom)/2;
 const yl=el('text',{x:0,y:0,'font-size':12.3,fill:'#0072BD','text-anchor':'middle',transform:'translate(67.3,'+cy+') rotate(-90)'},g);
 
 
 return yl;
}
function legend(x0,x1,tx,rows,pname){
 const g=el('g',{});
 
 
 for(const r of rows){
  if(r.color){const l=el('line',{x1:x0,y1:r.y,x2:x1,y2:r.y,stroke:r.color,'stroke-width':r.w},g);
   
   }
  const t=el('text',{x:tx,y:r.y+3.6,'font-size':10.2,fill:'#000'},g);t.textContent=r.text;
  
  
 }
}
const C2='#0000ff',C3='#add8e6',CO='#ff8c00',CP='#800080';

// Panel 1
{const p=P.p1;const g=el('g',{'clip-path':clipFor({top:p.top,bottom:p.bottom+3})});
 
 
 line(g,bt23Mwr3c,p,C3,1.1,'bt23-mwr3c-line');
 line(g,bt23Mwr2c,p,C2,0.9,'bt23-mwr2c-line');
 line(g,bt23Phy,p,CO,2.2,'bt23-phy-iter-line');
 bands(g,bt23WetBands,p,'#d2b48c','wet-window-band');
 axes(p,bt23Ticks,['20','30','40','50','60','70'],'','bt23').textContent='Zenith BT 23 GHz, K';
 legend(507,568,574.6,[{y:102.8,color:C2,w:1,text:'MWR 2C (tan = wet window)'},{y:118.4,color:C3,w:1.1,text:'MWR 3C'},{y:133.3,color:CO,w:2.2,text:'Phy-Iter'}],'bt23');}
// Panel 2
{const p=P.p2;const g=el('g',{'clip-path':clipFor(p)});
 
 
 line(g,bt31Mwr3c,p,C3,1.1,'bt31-mwr3c-line');
 line(g,bt31Mwr2c,p,C2,0.9,'bt31-mwr2c-line');
 line(g,bt31Phy,p,CO,2.2,'bt31-phy-iter-line');
 axes(p,bt31Ticks,['10','20','30','40','50','60','70','80','90'],'','bt31').textContent='Zenith BT 31 GHz, K';
 legend(515,577,583,[{y:397,color:C2,w:1,text:'MWR2C'},{y:412,color:C3,w:1.1,text:'MWR 3C (tan = rain flag)'},{y:427,color:CO,w:2.2,text:'Phy-Iter'}],'bt31');}
// Panel 3
{const p=P.p3;const g=el('g',{'clip-path':clipFor({top:p.top,bottom:p.bottom+3})});
 
 
 line(g,pwvMwr2c,p,C2,0.9,'pwv-mwr2c-line');
 line(g,pwvPhy,p,'#ffd9b0',5.5,'pwv-phy-iter-uncertainty',{'stroke-opacity':0.7});
 line(g,pwvMwr3c,p,C3,1.1,'pwv-mwr3c-line');
 line(g,pwvPhy,p,CO,2.2,'pwv-phy-iter-line');
 bands(g,pwvTanBands,p,'#d2b48c','mwr2c-only-band');
 bands(g,pwvBrownBands,p,'#a52a2a','mwr3c-only-band');
 axes(p,pwvTicks,['1','1.2','1.4','1.6','1.8'],'','pwv').textContent='Precip. Water Vapor, mm';
 legend(576.5,638,644,[{y:695.4,color:C2,w:1,text:'MWR 2C PWV'},{y:710.6,color:C3,w:1.1,text:'MWR 3C PWV'},{y:725.5,text:'Phy-Iter PWV'},{y:740.2,color:CO,w:2.2,text:'(tan = MWR 2C only)'},{y:754.3,text:'(brown = MWR 3C only)'}],'pwv');}
// Panel 4
{const p=P.p4;const g=el('g',{'clip-path':clipFor({top:p.top,bottom:p.bottom})});
 
 
 for(const u of lwpPhyUncert){const r=el('rect',{x:X(u[0]),y:p.y(u[3]),width:X(u[1])-X(u[0]),height:p.y(u[2])-p.y(u[3]),fill:'#ffdcb8','fill-opacity':0.7},g);
  
  }
 line(g,lwpMwr3c,p,C3,1.1,'lwp-mwr3c-line');
 line(g,lwpMwr2c,p,C2,0.9,'lwp-mwr2c-line');
 line(g,lwpAdiabatic,p,CP,1.0,'lwp-adiabatic-line');
 line(g,lwpPhy,p,CO,2.2,'lwp-phy-iter-line');
 for(const m of lwpPhyMarkers){const x=X(m[0]),y=p.y(m[1]);const e=el('path',{d:`M${x-2.2} ${y-2.2}L${x+2.2} ${y+2.2}M${x-2.2} ${y+2.2}L${x+2.2} ${y-2.2}`,stroke:CO,'stroke-width':1.6},g);
  
  }
 for(const m of lwpAdiabaticMarkers){const x=X(m[0]),y=p.y(m[1]);const e=el('path',{d:`M${x-2.2} ${y-2.2}L${x+2.2} ${y+2.2}M${x-2.2} ${y+2.2}L${x+2.2} ${y-2.2}`,stroke:CP,'stroke-width':1.6},g);
  
  }
 bands(g,lwpGrayBands,p,'#cccccc','lwp-gray-band');
 bands(g,lwpYellowBands,p,'#ffff00','lwp-yellow-band');
 bands(g,lwpCyanBands,p,'#00ffff','lwp-cyan-band');
 const yl=axes(p,lwpTicks,['0','0.5','1','1.5','2','2.5','3','3.5','4'],'','lwp');
 yl.textContent='log10 Liquid Water Path, log10(g/m';
 const sup=el('tspan',{'baseline-shift':'super','font-size':8.5},yl);sup.textContent='2';
 const tail=el('tspan',{},yl);tail.textContent=')';
 legend(601,662,669,[{y:976.7,color:C2,w:1,text:'MWR 2C LWP'},{y:992,color:C3,w:1.1,text:'MWR 3C LWP'},{y:1007.5,color:CO,w:2.2,text:'Phy-Iter LWP'},{y:1022,color:CP,w:1,text:'Adiabatic LWP'}],'lwp');}
// Panel 5
{const p=P.p5;const g=el('g',{});
 
 
 const levels=[[0,flag0],[3,flag3],[4,flag4],[5,flag5],[6,flag6],[7,flag7],[9,flag9],[10,flag10],[11,flag11]];
 for(const [lv,arr] of levels){for(const m of arr){const c=el('ellipse',{cx:X(18+m/60),cy:p.y(lv),rx:1.2,ry:1.4,fill:CO},g);
  
  }}
 axes(p,flagTicks,['0','2','4','6','8','10'],'','dq').textContent='MWR Phy Iter DQ Flag';}
</script>
</body></html>
